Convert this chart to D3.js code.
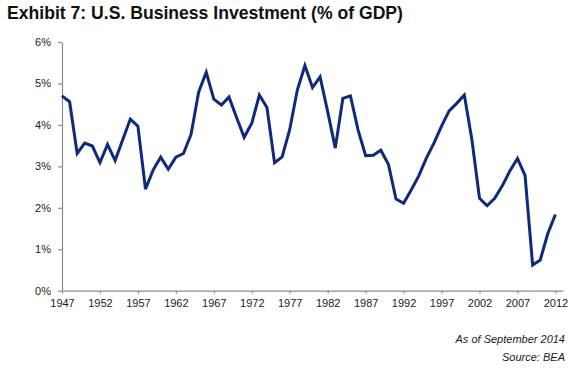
<!DOCTYPE html>
<html>
<head>
<meta charset="utf-8">
<script src="https://cdn.jsdelivr.net/npm/d3@7"></script>
<style>
  body { margin: 0; background: #fff; }
  svg { display: block; font-family: 'Liberation Sans', Arial, sans-serif; }
</style>
</head>
<body>
<div id="chart"></div>
<script>
const years = d3.range(1947, 2013);
const investment = [
  4.70, 4.56, 3.31, 3.56, 3.49, 3.09, 3.53, 3.14, 3.64, 4.14,
  3.97, 2.45, 2.91, 3.22, 2.93, 3.22, 3.31, 3.77, 4.79, 5.27,
  4.62, 4.48, 4.67, 4.18, 3.70, 4.04, 4.72, 4.42, 3.09, 3.23,
  3.89, 4.84, 5.43, 4.90, 5.16, 4.32, 3.44, 4.64, 4.70, 3.88,
  3.26, 3.27, 3.39, 3.05, 2.21, 2.11, 2.43, 2.77, 3.20, 3.56,
  3.97, 4.34, 4.52, 4.72, 3.64, 2.23, 2.05, 2.23, 2.53, 2.89,
  3.19, 2.78, 0.62, 0.74, 1.38, 1.84
];
const yTicks = [0, 1, 2, 3, 4, 5, 6];
const xTicks = [1947, 1952, 1957, 1962, 1967, 1972, 1977, 1982, 1987, 1992, 1997, 2002, 2007, 2012];
const titleText = 'Exhibit 7: U.S. Business Investment (% of GDP)';
const notes = ['As of September 2014', 'Source: BEA'];

const data = years.map((yr, i) => ({ year: yr, value: investment[i] }));

const width = 576;
const height = 370;
const margin = { top: 42, right: 13, bottom: 79.3, left: 62 };

const svg = d3.select('#chart').append('svg')
  .attr('width', width)
  .attr('height', height);

const x = d3.scaleLinear()
  .domain([1947, 2013])
  .range([margin.left, width - margin.right]);

const y = d3.scaleLinear()
  .domain([0, 6])
  .range([height - margin.bottom, margin.top]);

svg.append('text')
  .attr('x', 7)
  .attr('y', 18.5)
  .attr('font-size', '17.6px')
  .attr('font-weight', 'bold')
  .attr('fill', '#111')
  .text(titleText);

// y axis
const yAxis = svg.append('g')
  .attr('transform', `translate(${margin.left},0)`)
  .call(d3.axisLeft(y).tickValues(yTicks).tickSize(4).tickSizeOuter(0).tickPadding(7)
    .tickFormat((d) => `${d}%`));

// x axis
const xAxis = svg.append('g')
  .attr('transform', `translate(0,${y(0)})`)
  .call(d3.axisBottom(x).tickValues(xTicks).tickSize(3).tickSizeOuter(0).tickPadding(5.5)
    .tickFormat(d3.format('d')));

[yAxis, xAxis].forEach((g) => {
  g.select('.domain').attr('stroke', '#8c8c8c').attr('stroke-width', 1.2);
  g.selectAll('.tick line').attr('stroke', '#8c8c8c').attr('stroke-width', 1.2);
  g.selectAll('.tick text')
    .attr('font-size', '11px')
    .attr('font-family', "'Liberation Sans', Arial, sans-serif")
    .attr('fill', '#1a1a1a');
});

const line = d3.line()
  .x((d) => x(d.year))
  .y((d) => y(d.value));

svg.append('path')
  .datum(data)
  .attr('d', line)
  .attr('fill', 'none')
  .attr('stroke', '#0f2a7c')
  .attr('stroke-width', 3)
  .attr('stroke-linejoin', 'miter');

svg.selectAll('.note')
  .data(notes)
  .enter().append('text')
  .attr('class', 'note')
  .attr('x', 565)
  .attr('y', (d, i) => 343 + i * 17.5)
  .attr('text-anchor', 'end')
  .attr('font-size', '11px')
  .attr('font-style', 'italic')
  .attr('fill', '#1a1a1a')
  .text((d) => d);
</script>
</body>
</html>
